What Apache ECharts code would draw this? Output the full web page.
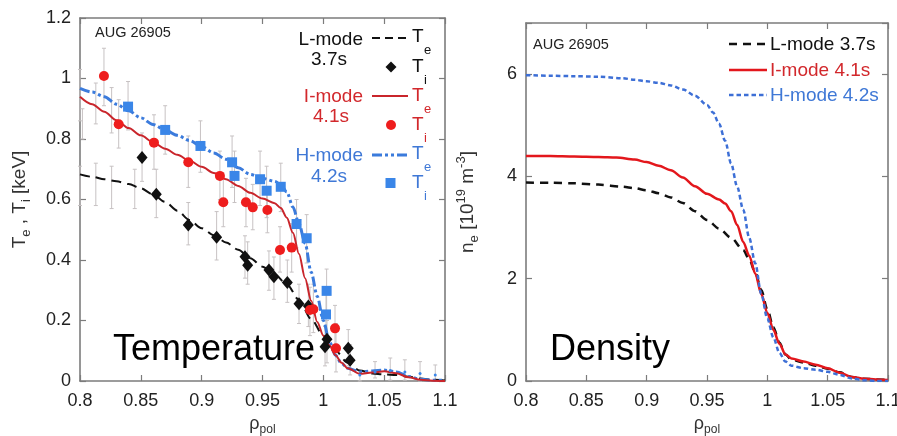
<!DOCTYPE html>
<html>
<head>
<meta charset="utf-8">
<script src="https://cdn.jsdelivr.net/npm/echarts@6/dist/echarts.min.js"></script>
<style>
  html, body { margin: 0; padding: 0; background: #fff; }
  #chart { width: 897px; height: 436px; }
</style>
</head>
<body>
<div id="chart"></div>
<script>
// ---- Temperature profiles, ASDEX Upgrade #26905 ----
// electron temperature [keV] vs rho_pol
const lModeTe = [[0.80,0.683],[0.81,0.675],[0.82,0.667],[0.83,0.66],[0.84,0.651],[0.85,0.637],[0.86,0.617],[0.87,0.592],[0.88,0.563],[0.89,0.532],[0.90,0.505],[0.91,0.482],[0.92,0.458],[0.93,0.434],[0.94,0.406],[0.95,0.378],[0.96,0.352],[0.97,0.32],[0.98,0.268],[0.99,0.205],[1.00,0.15],[1.01,0.10],[1.02,0.06],[1.03,0.035],[1.04,0.025],[1.05,0.022],[1.06,0.02],[1.07,0.014],[1.08,0.008],[1.09,0.004],[1.10,0.002]];
const iModeTe = [[0.80,0.94],[0.81,0.915],[0.82,0.89],[0.83,0.862],[0.84,0.836],[0.85,0.812],[0.86,0.789],[0.87,0.768],[0.88,0.748],[0.89,0.728],[0.90,0.708],[0.91,0.688],[0.92,0.667],[0.93,0.645],[0.94,0.622],[0.95,0.603],[0.96,0.588],[0.965,0.572],[0.97,0.54],[0.975,0.49],[0.98,0.42],[0.985,0.34],[0.99,0.265],[0.995,0.195],[1.00,0.15],[1.005,0.118],[1.01,0.085],[1.015,0.06],[1.02,0.042],[1.03,0.024],[1.04,0.028],[1.05,0.032],[1.06,0.026],[1.07,0.012],[1.08,0.004],[1.09,0.001],[1.10,0.0]];
const hModeTe = [[0.80,0.967],[0.81,0.955],[0.82,0.94],[0.83,0.915],[0.84,0.893],[0.85,0.87],[0.86,0.848],[0.87,0.83],[0.88,0.812],[0.89,0.795],[0.90,0.775],[0.91,0.754],[0.92,0.733],[0.93,0.705],[0.94,0.683],[0.95,0.67],[0.96,0.66],[0.965,0.65],[0.97,0.625],[0.975,0.575],[0.98,0.52],[0.985,0.455],[0.99,0.36],[0.995,0.28],[1.00,0.20],[1.005,0.13],[1.01,0.085],[1.015,0.058],[1.02,0.042],[1.03,0.03],[1.04,0.033],[1.05,0.036],[1.06,0.03],[1.07,0.015],[1.08,0.006],[1.09,0.003],[1.10,0.002]];

// ion temperature [rho, Ti, lower, upper]
const lModeTi = [[0.851,0.739,0.66,0.82],[0.8627,0.617,0.54,0.70],[0.889,0.516,0.45,0.59],[0.9123,0.475,0.40,0.56],[0.9356,0.411,0.34,0.48],[0.9378,0.383,0.32,0.46],[0.9553,0.367,0.30,0.43],[0.9594,0.345,0.27,0.41],[0.9704,0.326,0.26,0.40],[0.980,0.255,0.19,0.32],[0.9877,0.248,0.18,0.32],[1.0014,0.113,0.05,0.18],[1.003,0.138,0.06,0.20],[1.0205,0.108,0.05,0.17],[1.022,0.069,0.02,0.12]];
const iModeTi = [[0.8197,1.008,0.91,1.10],[0.8318,0.849,0.77,0.93],[0.8608,0.788,0.70,0.88],[0.889,0.723,0.64,0.81],[0.915,0.678,0.60,0.76],[0.9178,0.591,0.51,0.67],[0.9364,0.591,0.51,0.67],[0.942,0.574,0.50,0.65],[0.954,0.565,0.49,0.64],[0.9644,0.433,0.36,0.51],[0.974,0.441,0.36,0.52],[0.989,0.235,0.15,0.31],[0.9918,0.237,0.16,0.32],[1.0096,0.174,0.10,0.25],[1.0104,0.108,0.03,0.19]];
const hModeTi = [[0.8395,0.907,0.83,0.99],[0.870,0.83,0.75,0.91],[0.899,0.777,0.69,0.86],[0.925,0.723,0.64,0.81],[0.927,0.678,0.59,0.76],[0.948,0.667,0.58,0.76],[0.9534,0.629,0.54,0.71],[0.965,0.642,0.56,0.72],[0.978,0.519,0.44,0.60],[0.9863,0.472,0.39,0.55],[1.0027,0.298,0.22,0.37],[1.0022,0.22,0.15,0.29]];
// scrape-off layer CXRS points and core channels without a plotted marker
const solTi = [[1.030,0.02,0.0,0.03],[1.0425,0.03,0.01,0.064],[1.055,0.035,0.003,0.076],[1.067,0.03,0.003,0.07],[1.0795,0.025,0.0,0.064],[1.092,0.02,0.0,0.053]];
const coreBars = [[0.800,0.95,0.86,1.03],[0.802,0.85,0.80,0.90],[0.813,0.92,0.85,0.985],[0.826,0.90,0.82,0.97],[0.800,0.64,0.58,0.71],[0.813,0.65,0.58,0.72],[0.826,0.64,0.57,0.71],[0.845,0.63,0.57,0.70]];

// ---- Density profiles [1e19 m^-3] ----
const lModeNe = [[0.80,3.88],[0.82,3.875],[0.84,3.865],[0.86,3.84],[0.88,3.80],[0.89,3.77],[0.90,3.73],[0.91,3.67],[0.92,3.59],[0.93,3.48],[0.94,3.32],[0.95,3.15],[0.96,2.98],[0.97,2.80],[0.98,2.56],[0.985,2.38],[0.99,2.12],[0.995,1.78],[1.00,1.40],[1.005,1.05],[1.01,0.75],[1.015,0.52],[1.02,0.42],[1.03,0.36],[1.04,0.30],[1.05,0.24],[1.06,0.17],[1.07,0.08],[1.08,0.045],[1.09,0.03],[1.10,0.02]];
const iModeNe = [[0.80,4.40],[0.82,4.40],[0.84,4.39],[0.86,4.38],[0.875,4.37],[0.89,4.33],[0.90,4.28],[0.91,4.21],[0.92,4.12],[0.93,3.98],[0.94,3.81],[0.95,3.66],[0.96,3.55],[0.965,3.47],[0.97,3.32],[0.975,3.05],[0.98,2.72],[0.985,2.45],[0.99,2.10],[0.995,1.70],[1.00,1.33],[1.005,1.00],[1.01,0.73],[1.015,0.52],[1.02,0.44],[1.03,0.38],[1.04,0.32],[1.05,0.25],[1.06,0.16],[1.07,0.08],[1.08,0.045],[1.09,0.03],[1.10,0.02]];
const hModeNe = [[0.80,5.98],[0.82,5.97],[0.84,5.96],[0.86,5.95],[0.88,5.92],[0.89,5.89],[0.90,5.86],[0.91,5.83],[0.92,5.78],[0.93,5.70],[0.94,5.58],[0.95,5.40],[0.955,5.25],[0.96,5.03],[0.965,4.70],[0.97,4.25],[0.975,3.80],[0.98,3.35],[0.985,2.80],[0.99,2.30],[0.995,1.70],[1.00,1.22],[1.005,0.85],[1.01,0.55],[1.015,0.38],[1.02,0.30],[1.03,0.25],[1.04,0.22],[1.05,0.18],[1.06,0.12],[1.07,0.05],[1.08,0.015],[1.09,0.0],[1.10,0.0]];

// axis ranges and tick steps
const rhoRange = [0.8, 1.1], rhoStep = 0.05;
const teRange = [0, 1.2], teStep = 0.2;
const neRange = [0, 7], neStep = 2;

const FONT = '"Liberation Sans", Arial, Helvetica, sans-serif';
const FRAME = '#7c7c7c';
const BLACK = '#111111';
const RED_L = '#c9252b', RED_PT = '#ee1d1d', RED_R = '#e3171c', RED_TXT = '#d2282c';
const BLUE_L = '#3b7bdc', BLUE_PT = '#3a86e8', BLUE_R = '#3d6fd6', BLUE_TXT = '#3f78d6';
const BAR = '#c7c2c3';

const chart = echarts.init(document.getElementById('chart'), null, { renderer: 'canvas' });

function fmt(v) { return String(+v.toFixed(2)); }

function rhoAxis(grid, pos, labels) {
  return {
    type: 'value', gridIndex: grid, position: pos,
    min: rhoRange[0], max: rhoRange[1], interval: rhoStep,
    axisLine: { show: true, onZero: false, lineStyle: { color: FRAME, width: 1.6 } },
    axisTick: { show: true, inside: true, length: 6, lineStyle: { color: FRAME, width: 1.2 } },
    axisLabel: { show: labels, formatter: fmt, fontSize: 18, color: '#222', fontFamily: FONT, margin: 11 },
    splitLine: { show: false },
    name: labels ? '{b|ρ}{s|pol}' : '',
    nameLocation: 'middle', nameGap: 23,
    nameTextStyle: {
      fontFamily: FONT, color: '#333',
      rich: {
        b: { fontSize: 18, lineHeight: 24, fontFamily: FONT, color: '#333' },
        s: { fontSize: 12, lineHeight: 4, verticalAlign: 'bottom', fontFamily: FONT, color: '#333' }
      }
    }
  };
}

function valAxis(grid, pos, range, step, labels, name, gap) {
  // the top of the density axis (7) is not a whole step, so it carries no label
  const isStep = v => Math.abs(v / step - Math.round(v / step)) < 1e-6;
  return {
    type: 'value', gridIndex: grid, position: pos,
    min: range[0], max: range[1], interval: step,
    axisLine: { show: true, onZero: false, lineStyle: { color: FRAME, width: 1.6 } },
    axisTick: { show: true, inside: true, length: 6, lineStyle: { color: FRAME, width: 1.2 } },
    axisLabel: {
      show: labels, fontSize: 18, color: '#222', fontFamily: FONT, margin: 9,
      formatter: v => isStep(v) ? fmt(v) : ''
    },
    splitLine: { show: false },
    name: name || '',
    nameLocation: 'middle', nameRotate: 90, nameGap: gap || 0,
    nameTextStyle: {
      fontFamily: FONT, color: '#333',
      rich: {
        b: { fontSize: 19, lineHeight: 26, fontFamily: FONT, color: '#333' },
        s: { fontSize: 13, lineHeight: 4, verticalAlign: 'bottom', fontFamily: FONT, color: '#333' },
        p: { fontSize: 13, lineHeight: 4, verticalAlign: 'top', fontFamily: FONT, color: '#333' }
      }
    }
  };
}

// vertical error bars with small caps, drawn through the axis scale
function errorBars(data, name) {
  return {
    type: 'custom', name: name, xAxisIndex: 0, yAxisIndex: 0, z: 1, silent: true,
    data: data.map(d => [d[0], d[2], d[3]]),
    encode: { x: 0, y: [1, 2] },
    renderItem: function (params, api) {
      const lo = api.coord([api.value(0), api.value(1)]);
      const hi = api.coord([api.value(0), api.value(2)]);
      const c = 2;
      const st = { stroke: BAR, lineWidth: 1 };
      return {
        type: 'group',
        children: [
          { type: 'line', shape: { x1: lo[0], y1: lo[1], x2: hi[0], y2: hi[1] }, style: st },
          { type: 'line', shape: { x1: lo[0] - c, y1: lo[1], x2: lo[0] + c, y2: lo[1] }, style: st },
          { type: 'line', shape: { x1: hi[0] - c, y1: hi[1], x2: hi[0] + c, y2: hi[1] }, style: st }
        ]
      };
    }
  };
}

function line(data, color, width, dash, xi, yi) {
  return {
    type: 'line', data: data, xAxisIndex: xi, yAxisIndex: yi,
    showSymbol: false, symbol: 'none', smooth: 0.3, smoothMonotone: 'x', z: 3,
    lineStyle: { color: color, width: width, type: dash || 'solid' }
  };
}

function points(data, symbol, size, color) {
  return {
    type: 'scatter', xAxisIndex: 0, yAxisIndex: 0, z: 4,
    data: data.map(d => [d[0], d[1]]),
    symbol: symbol, symbolSize: size,
    itemStyle: { color: color, opacity: 1 }
  };
}

// legend helpers (pixel layout of the in-plot key)
function txt(x, y, s, size, color, align) {
  return { type: 'text', x: x, y: y, z: 100,
    style: { text: s, fontSize: size, fontFamily: FONT, fill: color, align: align || 'left', verticalAlign: 'middle' } };
}
function seg(x1, x2, y, color, w, dash) {
  return { type: 'line', z: 100, shape: { x1: x1, y1: y, x2: x2, y2: y },
    style: { stroke: color, lineWidth: w, lineDash: dash || null } };
}
function tSym(x, y, sub, color) {
  return [txt(x, y, 'T', 19, color), txt(x + 12, y + 13, sub, 13, color)];
}

const graphics = [
  // temperature panel key
  txt(95, 33, 'AUG 26905', 14.5, '#222'),
  txt(363, 40, 'L-mode', 19, BLACK, 'right'),
  txt(329, 60, '3.7s', 19, BLACK, 'center'),
  seg(372, 408, 38, BLACK, 2, [8, 5]),
  ...tSym(412, 37, 'e', BLACK),
  { type: 'polygon', z: 100, shape: { points: [[391, 61.5], [396.5, 67], [391, 72.5], [385.5, 67]] }, style: { fill: BLACK } },
  ...tSym(412, 67, 'i', BLACK),

  txt(363, 97, 'I-mode', 19, RED_TXT, 'right'),
  txt(331, 117, '4.1s', 19, RED_TXT, 'center'),
  seg(372, 408, 96, RED_L, 2),
  ...tSym(412, 96, 'e', RED_TXT),
  { type: 'circle', z: 100, shape: { cx: 391, cy: 125, r: 5 }, style: { fill: RED_PT } },
  ...tSym(412, 125, 'i', RED_TXT),

  txt(363, 156, 'H-mode', 19, BLUE_TXT, 'right'),
  txt(329, 177, '4.2s', 19, BLUE_TXT, 'center'),
  seg(372, 408, 155, BLUE_L, 3, [10, 3, 3, 3, 3, 3]),
  ...tSym(412, 154, 'e', BLUE_TXT),
  { type: 'rect', z: 100, shape: { x: 385.5, y: 178, width: 10, height: 10 }, style: { fill: BLUE_PT } },
  ...tSym(412, 183, 'i', BLUE_TXT),

  txt(113, 350, 'Temperature', 36, '#000'),

  // density panel key
  txt(533, 45, 'AUG 26905', 14.5, '#222'),
  seg(729, 767, 44, BLACK, 2.5, [8, 6]),
  txt(770, 45, 'L-mode 3.7s', 19, BLACK),
  seg(729, 767, 70, RED_R, 2.5),
  txt(770, 71, 'I-mode 4.1s', 19, RED_TXT),
  seg(729, 767, 95, BLUE_R, 2.5, [4.5, 3]),
  txt(770, 96, 'H-mode 4.2s', 19, BLUE_TXT),

  txt(550, 350, 'Density', 36, '#000')
];

const option = {
  backgroundColor: '#ffffff',
  animation: false,
  grid: [
    { left: 80, top: 18, right: 452, bottom: 55, containLabel: false, outerBoundsMode: 'none' },
    { left: 526, top: 23, right: 9, bottom: 55, containLabel: false, outerBoundsMode: 'none' }
  ],
  xAxis: [
    rhoAxis(0, 'bottom', true),
    rhoAxis(0, 'top', false),
    rhoAxis(1, 'bottom', true),
    rhoAxis(1, 'top', false)
  ],
  yAxis: [
    valAxis(0, 'left', teRange, teStep, true, '{b|T}{s|e}{b| , T}{s|i}{b| [keV]}', 47),
    valAxis(0, 'right', teRange, teStep, false),
    valAxis(1, 'left', neRange, neStep, true, '{b|n}{s|e}{b| [10}{p|19}{b| m}{p|-3}{b|]}', 45),
    valAxis(1, 'right', neRange, neStep, false)
  ],
  series: [
    errorBars(coreBars.concat(lModeTi, iModeTi, hModeTi, solTi), 'Ti errors'),
    points(solTi, 'circle', 3, BLUE_PT),
    line(lModeTe, BLACK, 2, [10, 6], 0, 0),
    line(hModeTe, BLUE_L, 3, [10, 3, 3, 3, 3, 3], 0, 0),
    line(iModeTe, RED_L, 2, 'solid', 0, 0),
    points(lModeTi, 'diamond', [11, 13], BLACK),
    points(iModeTi, 'circle', 10, RED_PT),
    points(hModeTi, 'rect', 10, BLUE_PT),

    line(lModeNe, BLACK, 2.5, [8, 6], 2, 2),
    line(iModeNe, RED_R, 2.5, 'solid', 2, 2),
    line(hModeNe, BLUE_R, 2.5, [4.5, 3], 2, 2)
  ],
  graphic: graphics
};

chart.setOption(option);
</script>
</body>
</html>
